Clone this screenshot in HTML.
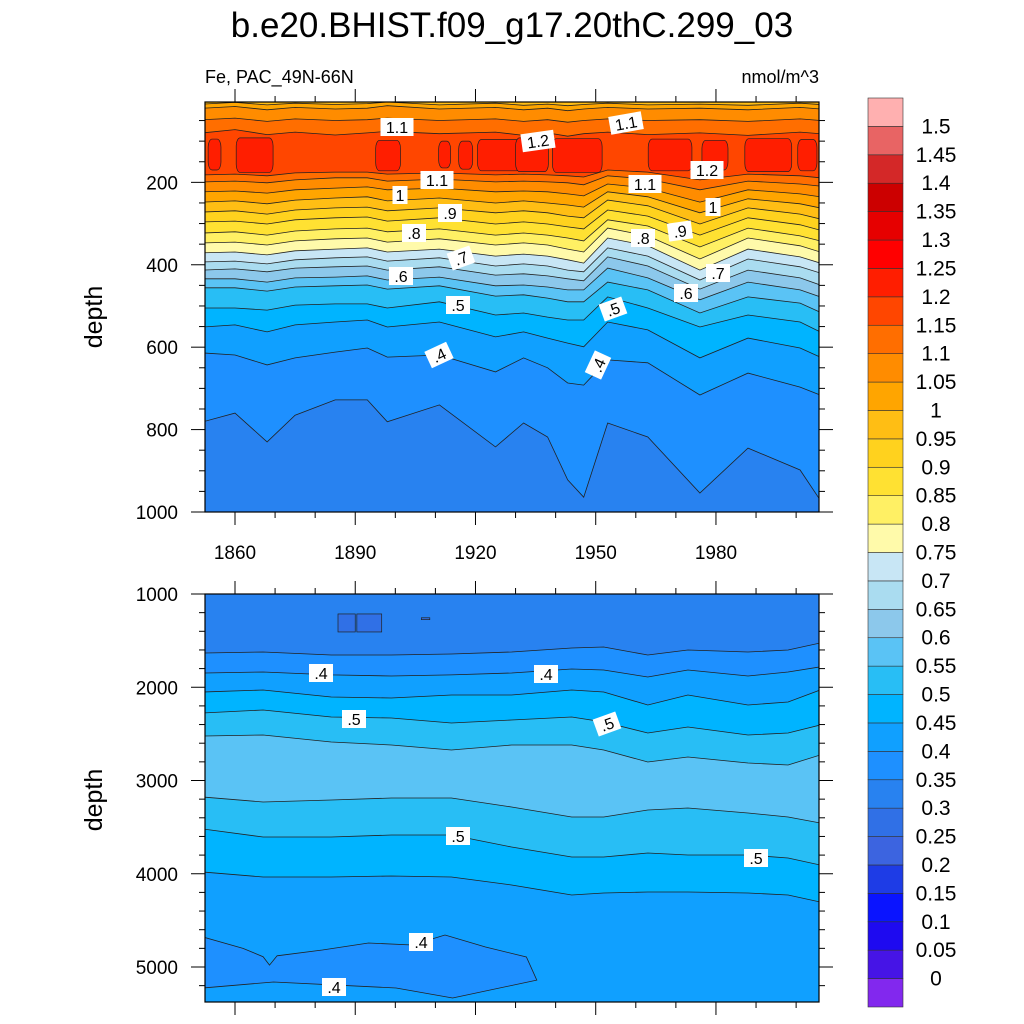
<!DOCTYPE html>
<html><head><meta charset="utf-8">
<style>
html,body{margin:0;padding:0;background:#fff;}
svg{display:block;font-family:"Liberation Sans",sans-serif;}
</style></head>
<body>
<svg id="chart" width="1024" height="1024" viewBox="0 0 1024 1024">
<defs>
<clipPath id="clipTop"><rect x="205" y="102" width="614" height="410"/></clipPath>
<clipPath id="clipBot"><rect x="205" y="594" width="614" height="408"/></clipPath>
</defs>
<text x="512" y="37" text-anchor="middle" font-size="35">b.e20.BHIST.f09_g17.20thC.299_03</text>
<text x="205" y="83" font-size="18">Fe, PAC_49N-66N</text>
<text x="819" y="83" font-size="18" text-anchor="end">nmol/m^3</text>
<text transform="translate(102,317) rotate(-90)" text-anchor="middle" font-size="25">depth</text>
<text transform="translate(102,800) rotate(-90)" text-anchor="middle" font-size="25">depth</text>
<g id="topFill" clip-path="url(#clipTop)"></g>
<g id="botFill" clip-path="url(#clipBot)"></g>
<g id="axes"></g>
<g id="labels"></g>
<g id="cbar"></g>
</svg>
<script>
// ---- data ----
const colors=['#8228EE','#4614E6','#1E0AF0','#0A14FF','#1E3CE6','#3C64E0','#3070E6','#2882F0','#1E90FF','#10A0FF','#00B4FF','#28BEF5','#5AC3F5','#8CC8EB','#AADCF0','#C8E6F5','#FFFAAA','#FFF064','#FFE132','#FFD21E','#FFBE14','#FFA500','#FF8C00','#FF6E00','#FF4600','#FF1E00','#FF0000','#E60000','#CC0000','#D42828','#E86464','#FFB0B0'];
const cbarLabels=['0','0.05','0.1','0.15','0.2','0.25','0.3','0.35','0.4','0.45','0.5','0.55','0.6','0.65','0.7','0.75','0.8','0.85','0.9','0.95','1','1.05','1.1','1.15','1.2','1.25','1.3','1.35','1.4','1.45','1.5'];
const topYears=[1852,1860,1868,1875,1885,1893,1898,1911,1925,1932,1938,1943,1947,1953,1963,1976,1988,2001,2006];
const c035=[781,760,830,765,728,728,781,740,842,784,818,922,964,784,818,954,845,898,971];
const c040=[614,619,643,626,612,602,624,619,660,626,650,687,692,631,638,716,663,697,716];
const c045=[551,546,563,546,539,534,551,539,575,563,578,590,599,539,558,626,578,602,624];
const c050=[505,505,510,498,495,495,505,490,522,517,527,534,534,478,505,551,522,539,563];
const c055=[456,456,464,454,451,449,459,451,476,473,481,490,490,442,461,517,478,493,515];
const c060=[434,434,442,432,430,427,437,430,451,449,454,461,461,408,432,485,442,461,478];
const c065=[413,410,417,408,405,403,413,405,425,422,427,434,439,381,403,459,413,432,449];
const c070=[393,391,398,388,383,381,391,383,403,398,403,413,417,359,379,437,386,405,420];
const c075=[371,369,376,366,362,359,369,362,379,374,379,388,396,335,354,413,362,381,396];
const c080=[347,345,352,342,337,335,345,337,352,347,352,362,369,311,330,386,335,354,369];
const c085=[323,320,328,318,313,311,320,313,328,323,328,335,342,291,306,357,311,330,342];
const c090=[296,294,301,291,286,284,294,286,301,296,301,308,313,267,282,328,286,303,316];
const c095=[272,269,277,267,262,260,269,262,274,269,274,282,286,243,257,301,262,277,289];
const c100=[248,245,252,243,238,235,245,238,250,245,250,255,260,223,235,274,240,252,262];
const c105=[223,221,226,218,214,211,218,214,223,221,223,228,233,204,214,248,218,228,235];
const c110=[199,197,201,194,189,189,197,192,199,197,199,201,206,184,192,218,197,204,209];
const c115=[182,180,184,177,175,175,180,177,182,180,182,184,187,170,175,194,180,184,189];
const u115=[80,72,84,78,85,80,76,82,78,86,80,88,82,78,84,80,86,78,82];
const u110=[48,44,52,46,50,48,44,50,46,52,48,54,50,46,50,48,52,46,50];
const u105=[20,16,24,18,22,20,14,22,18,24,20,26,22,18,22,20,24,18,22];
const u100=[10,6,12,8,11,9,5,12,8,13,10,14,11,8,12,10,13,8,11];
// red (1.2-1.25) patches: start year, end year, top depth, bottom depth
const redStart=[1853.3,1860.3,1895.1,1910.8,1915.8,1920.5,1930.0,1939.2,1963.1,1976.5,1987.2,2000.4];
const redEnd=[1856.5,1869.5,1901.3,1913.8,1919.3,1931.2,1938.2,1951.6,1974.0,1983.0,1998.9,2005.2];
const redTop=[95,92,98,100,100,96,92,94,95,98,94,96];
const redBot=[170,176,172,165,168,172,174,176,172,170,174,172];

const botYears=[1852,1867,1884,1899,1914,1929,1944,1952,1963,1973,1988,1998,2006];
const bA=[1633,1622,1654,1654,1643,1622,1579,1568,1654,1601,1622,1601,1525];
const bB=[1847,1836,1868,1879,1868,1847,1804,1815,1890,1815,1879,1836,1782];
const bC=[2051,2029,2105,2115,2083,2083,2029,2051,2190,2083,2190,2158,2029];
const bD=[2276,2244,2319,2330,2383,2351,2319,2373,2491,2426,2512,2491,2405];
const bE=[2523,2512,2587,2619,2673,2619,2619,2673,2802,2748,2812,2834,2727];
const bF=[3177,3231,3209,3188,3188,3284,3391,3391,3316,3295,3348,3391,3456];
const bG=[3520,3606,3606,3584,3584,3713,3820,3820,3777,3799,3799,3831,3906];
const bH=[3981,4035,4035,4024,4035,4121,4228,4206,4196,4196,4206,4228,4303];
const blobYears=[1852,1862,1867,1868.6,1870.5,1881.8,1893.3,1904.2,1912.4,1922.5,1932.7,1935.3,1914.3,1900.2,1869.6,1852];
const blobDepths=[4678,4800,4890,4980,4880,4818,4743,4764,4657,4786,4893,5140,5332,5225,5161,5225];
const lowStart=[1885.7,1890.4,1906.5];
const lowEnd=[1890.0,1896.6,1908.6];
const lowTop=[1214,1214,1255];
const lowBot=[1407,1407,1275];

// ---- scales ----
const NS='http://www.w3.org/2000/svg';
function X(yr){return 235+(yr-1860)*4.008;}
function YT(d){return 102+(d-5)*410/995;}
function YB(d){return 594+(d-1000)*0.09325;}
function idxAbove(L){return Math.round(L/0.05)+1;}
function idxBelowUp(L){return Math.round(L/0.05);}
function mk(tag,attrs,parent){const e=document.createElementNS(NS,tag);for(const k in attrs)e.setAttribute(k,attrs[k]);parent.appendChild(e);return e;}
function linePts(years,depths,Y){return years.map((yr,i)=>[X(yr),Y(depths[i])]);}

const topG=document.getElementById('topFill');
const botG=document.getElementById('botFill');
const strokeC='#222';

// top plot
const bg=mk('rect',{x:205,y:102,width:614,height:410,fill:colors[7]},topG);


const topSeq=[[0.35,c035],[0.40,c040],[0.45,c045],[0.50,c050],[0.55,c055],[0.60,c060],[0.65,c065],[0.70,c070],[0.75,c075],[0.80,c080],[0.85,c085],[0.90,c090],[0.95,c095],[1.00,c100],[1.05,c105],[1.10,c110],[1.15,c115]];
const topLines=[];
topSeq.forEach(([L,arr])=>{
  const p=linePts(topYears,arr,YT);
  const d='M'+X(1840)+',90 L'+X(1840)+','+p[0][1]+' '+p.map(q=>'L'+q[0].toFixed(1)+','+q[1].toFixed(1)).join(' ')+' L'+X(2020)+','+p[p.length-1][1]+' L'+X(2020)+',90Z';
  const e=mk('path',{d:d,fill:colors[idxAbove(L)]},topG);
  
  
  topLines.push(p);
});
[[1.15,u115],[1.10,u110],[1.05,u105],[1.00,u100]].forEach(([L,arr])=>{
  const p=linePts(topYears,arr,YT);
  const d='M'+X(1840)+',90 L'+X(1840)+','+p[0][1]+' '+p.map(q=>'L'+q[0].toFixed(1)+','+q[1].toFixed(1)).join(' ')+' L'+X(2020)+','+p[p.length-1][1]+' L'+X(2020)+',90Z';
  const e=mk('path',{d:d,fill:colors[idxBelowUp(L)]},topG);
  
  
  topLines.push(p);
});
redStart.forEach((s,i)=>{
  const x0=X(s),x1=X(redEnd[i]),y0=YT(redTop[i]),y1=YT(redBot[i]);
  const e=mk('rect',{x:x0,y:y0,width:x1-x0,height:y1-y0,rx:4,ry:8,fill:colors[25],stroke:strokeC,'stroke-width':0.7},topG);
  
  
});
topLines.forEach(p=>{
  const e=mk('polyline',{points:p.map(q=>q[0].toFixed(1)+','+q[1].toFixed(1)).join(' '),fill:'none',stroke:strokeC,'stroke-width':0.8},topG);
  
  
});

// bottom plot
const bg2=mk('rect',{x:205,y:594,width:614,height:408,fill:colors[7]},botG);


lowStart.forEach((s,i)=>{
  const x0=X(s),x1=X(lowEnd[i]),y0=YB(lowTop[i]),y1=YB(lowBot[i]);
  const e=mk('rect',{x:x0,y:y0,width:x1-x0,height:y1-y0,fill:colors[6],stroke:strokeC,'stroke-width':0.7},botG);
  
  
});
const botSeq=[[bA,8],[bB,9],[bC,10],[bD,11],[bE,12],[bF,11],[bG,10],[bH,9]];
const botLines=[];
botSeq.forEach(([arr,ci])=>{
  const p=linePts(botYears,arr,YB);
  const d='M'+X(1840)+',1010 L'+X(1840)+','+p[0][1]+' '+p.map(q=>'L'+q[0].toFixed(1)+','+q[1].toFixed(1)).join(' ')+' L'+X(2020)+','+p[p.length-1][1]+' L'+X(2020)+',1010Z';
  const e=mk('path',{d:d,fill:colors[ci]},botG);
  
  
  botLines.push(p);
});
{
  const p=linePts(blobYears,blobDepths,YB);
  const e=mk('polygon',{points:p.map(q=>q[0].toFixed(1)+','+q[1].toFixed(1)).join(' '),fill:colors[8],stroke:strokeC,'stroke-width':0.8},botG);
  
  
}
botLines.forEach(p=>{
  const e=mk('polyline',{points:p.map(q=>q[0].toFixed(1)+','+q[1].toFixed(1)).join(' '),fill:'none',stroke:strokeC,'stroke-width':0.8},botG);
  
  
});

// axes
const ax=document.getElementById('axes');
function tick(x1,y1,x2,y2,name){const e=mk('line',{x1:x1,y1:y1,x2:x2,y2:y2,stroke:'#000','stroke-width':1},ax);}
[[102,512],[594,1002]].forEach(([t,b],pi)=>{
  const r=mk('rect',{x:205,y:t,width:614,height:b-t,fill:'none',stroke:'#000','stroke-width':1.2},ax);
  
  
  for(let yr=1860;yr<=2000;yr+=10){
    const len=(yr-1860)%30===0?13:6;const x=X(yr);
    tick(x,b,x,b+len,'x-tick');tick(x,t,x,t-len,'x-tick');
  }
});
const topTickLabels=['200','400','600','800','1000'];
for(let d=50;d<=1000;d+=50){const y=YT(d);const len=d%200===0?14:6;tick(205,y,205-len,y,'y-tick');tick(819,y,819+len,y,'y-tick');}
topTickLabels.forEach(s=>{const e=mk('text',{x:178,y:YT(+s)+7,'text-anchor':'end','font-size':19},ax);e.textContent=s;});
for(let d=1000;d<=5375;d+=200){const y=YB(d);const len=d%1000===0?14:6;tick(205,y,205-len,y,'y-tick');tick(819,y,819+len,y,'y-tick');}
['1000','2000','3000','4000','5000'].forEach(s=>{const e=mk('text',{x:178,y:YB(+s)+7,'text-anchor':'end','font-size':19},ax);e.textContent=s;});
['1860','1890','1920','1950','1980'].forEach(s=>{const e=mk('text',{x:X(+s),y:559,'text-anchor':'middle','font-size':19},ax);e.textContent=s;});

// contour labels
const labText=['1.1','1.2','1.1','1.2','1.1','1.1','1','1','.9','.9','.8','.8','.7','.7','.6','.6','.5','.5','.4','.4','.4','.4','.5','.5','.5','.5','.4','.4'];
const labX=[397,538,626,707,437,645,400,713,450,680,414,643,461,718,401,686,458,613,439,598,321,546,354,607,458,756,421,334];
const labY=[127,141,123,170,180,184,195,207,213,231,233,238,258,273,276,293,305,309,355,365,673,674,719,724,836,858,942,987];
const labR=[0,-8,-10,0,0,0,0,0,0,-8,0,0,-20,0,0,0,0,-20,-25,-65,0,0,0,-20,0,0,0,0];
const LG=document.getElementById('labels');
labText.forEach((t,i)=>{
  const g=mk('g',{transform:`translate(${labX[i]},${labY[i]}) rotate(${labR[i]})`},LG);
  
  
  const w=t.length*9+6;
  mk('rect',{x:-w/2,y:-9,width:w,height:18,fill:'#fff'},g);
  const e=mk('text',{x:0,y:6,'text-anchor':'middle','font-size':16},g);e.textContent=t;
});

// colorbar
const CB=document.getElementById('cbar');
const bh=(1007-98)/32;
colors.forEach((c,i)=>{
  const y=1007-(i+1)*bh;
  const e=mk('rect',{x:868,y:y,width:35,height:bh,fill:c,stroke:'#333','stroke-width':0.6},CB);
  
  
});
cbarLabels.forEach((s,i)=>{
  const y=1007-(i+1)*bh;
  const e=mk('text',{x:936,y:y+7,'text-anchor':'middle','font-size':21},CB);
  e.textContent=s;
  
  
});
</script>
</body></html>
